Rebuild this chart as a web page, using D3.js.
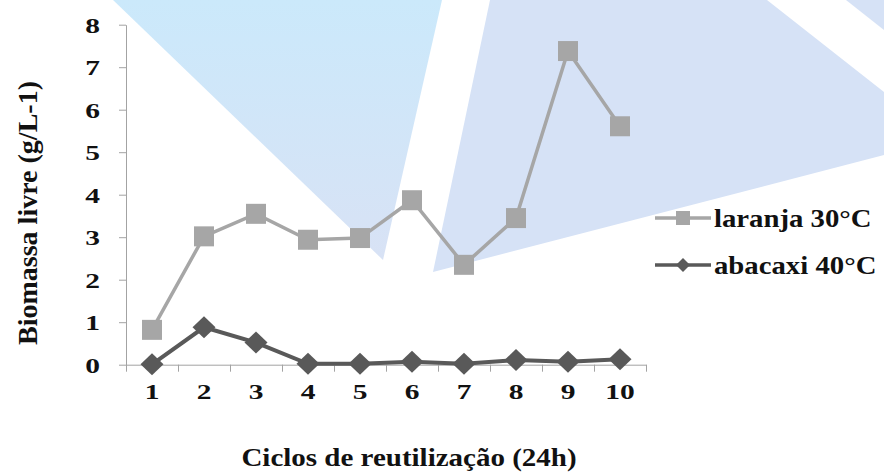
<!DOCTYPE html>
<html>
<head>
<meta charset="utf-8">
<script src="https://cdn.jsdelivr.net/npm/d3@7/dist/d3.min.js"></script>
<style>
  html, body { margin: 0; padding: 0; background: #fff; }
  svg { display: block; }
  text { font-family: "Liberation Serif", "Times New Roman", serif; font-weight: bold; fill: #111; }
</style>
</head>
<body>
<svg id="chart" width="884" height="474"></svg>
<script>
// Reuse cycles (24h each)
const categories = ["1", "2", "3", "4", "5", "6", "7", "8", "9", "10"];
// Free biomass (g/L-1) per cycle
const laranja30 = [0.82, 3.02, 3.55, 2.94, 2.98, 3.87, 2.35, 3.45, 7.38, 5.61];
const abacaxi40 = [0.01, 0.88, 0.52, 0.02, 0.02, 0.07, 0.02, 0.11, 0.07, 0.13];
const yTicks = [0, 1, 2, 3, 4, 5, 6, 7, 8];
const seriesNames = ["laranja 30°C", "abacaxi 40°C"];
const yTitle = "Biomassa livre  (g/L-1)";
const xTitle = "Ciclos de reutilização  (24h)";

const plot = { left: 126, right: 646, top: 24.7, bottom: 364.7 };
const TICK_STRETCH = 1.34;      // wide serif digits
const TITLE_STRETCH = 1.16;
const LEGEND_STRETCH = 1.15;
const axisColor = "#a3a3a3";
const lightGray = "#a6a6a6";
const darkGray = "#595959";

const svg = d3.select("#chart");

// Decorative background wedges
const defs = svg.append("defs");
const grad = defs.append("linearGradient").attr("id", "wedgeGrad")
  .attr("x1", 0).attr("y1", 0).attr("x2", 0).attr("y2", 1);
grad.append("stop").attr("offset", "0%").attr("stop-color", "#cbe9fb");
grad.append("stop").attr("offset", "100%").attr("stop-color", "#d8e2f5");

const bg = svg.append("g").attr("class", "backdrop");
const wedges = [
  { pts: [[113, 0], [442, 0], [383, 260]], fill: "url(#wedgeGrad)" },
  { pts: [[490, 0], [767, 0], [884, 92], [884, 155], [433, 272]], fill: "#d6e2f6" },
  { pts: [[846, 0], [884, 0], [884, 30]], fill: "#d6e2f6" }
];
bg.selectAll("path").data(wedges).join("path")
  .attr("d", d => d3.line()(d.pts) + "Z")
  .attr("fill", d => d.fill);

// Scales
const y = d3.scaleLinear().domain([0, 8]).range([plot.bottom, plot.top]);
const xBand = d3.scaleBand().domain(categories).range([plot.left, plot.right]).padding(0);
const xEdge = d3.scaleLinear().domain([0, categories.length]).range([plot.left, plot.right]);
const cx = (c) => xBand(c) + xBand.bandwidth() / 2;

function stretchText(sel) {
  sel.each(function () {
    const t = d3.select(this);
    const x0 = +t.attr("x") || 0;
    t.attr("x", x0 / TICK_STRETCH).attr("transform", `scale(${TICK_STRETCH},1)`);
  });
}

// Y axis
const yAxis = svg.append("g").attr("transform", `translate(${plot.left},0)`)
  .call(d3.axisLeft(y).tickValues(yTicks).tickFormat(d3.format("d")).tickSize(7).tickSizeOuter(0).tickPadding(19));
yAxis.select(".domain").attr("stroke", axisColor);
yAxis.selectAll(".tick line").attr("stroke", axisColor);
yAxis.selectAll(".tick text").attr("font-size", 22).attr("dy", "0.34em").call(stretchText);

// X axis: line and boundary ticks
const xAxis = svg.append("g").attr("transform", `translate(0,${plot.bottom})`)
  .call(d3.axisBottom(xEdge).ticks(categories.length).tickFormat("").tickSize(7).tickSizeOuter(0));
xAxis.select(".domain").attr("stroke", axisColor);
xAxis.selectAll(".tick line").attr("stroke", axisColor);

// X labels centred in each category
const xLab = svg.append("g").attr("transform", `translate(0,${plot.bottom})`)
  .call(d3.axisBottom(xBand).tickSize(0).tickPadding(19));
xLab.select(".domain").remove();
xLab.selectAll(".tick text").attr("font-size", 22).attr("dy", "0.71em").call(stretchText);

// Axis titles
svg.append("text")
  .attr("transform", "translate(37,213) rotate(-90)")
  .attr("text-anchor", "middle").attr("font-size", 28)
  .text(yTitle);
svg.append("text")
  .attr("transform", `translate(409,466) scale(${TITLE_STRETCH},1)`)
  .attr("text-anchor", "middle").attr("font-size", 25)
  .text(xTitle);

// Series
const line = d3.line().x((d, i) => cx(categories[i])).y(d => y(d));
const diamond = (hw, hh) => `M0,${-hh}L${hw},0L0,${hh}L${-hw},0Z`;

svg.append("path").datum(laranja30)
  .attr("d", line).attr("fill", "none")
  .attr("stroke", lightGray).attr("stroke-width", 3.5);
svg.append("g").selectAll("rect").data(laranja30).join("rect")
  .attr("x", (d, i) => cx(categories[i]) - 10)
  .attr("y", d => y(d) - 10)
  .attr("width", 20).attr("height", 20)
  .attr("fill", lightGray);

svg.append("path").datum(abacaxi40)
  .attr("d", line).attr("fill", "none")
  .attr("stroke", darkGray).attr("stroke-width", 4);
svg.append("g").selectAll("path").data(abacaxi40).join("path")
  .attr("transform", (d, i) => `translate(${cx(categories[i])},${y(d)})`)
  .attr("d", diamond(11.5, 11))
  .attr("fill", darkGray);

// Legend
const legendItems = [
  { name: seriesNames[0], color: lightGray, marker: "square" },
  { name: seriesNames[1], color: darkGray, marker: "diamond" }
];
const legend = svg.append("g").attr("transform", "translate(655,218)");
const li = legend.selectAll("g").data(legendItems).join("g")
  .attr("transform", (d, i) => `translate(0,${i * 47})`);
li.append("line").attr("x1", 0).attr("x2", 56).attr("y1", 0).attr("y2", 0)
  .attr("stroke", d => d.color).attr("stroke-width", 3.5);
li.append("path")
  .attr("transform", "translate(28,0)")
  .attr("d", d => d.marker === "square" ? "M-7,-7H7V7H-7Z" : diamond(7, 7))
  .attr("fill", d => d.color);
li.append("text")
  .attr("transform", `translate(59,0) scale(${LEGEND_STRETCH},1)`)
  .attr("dy", "0.35em").attr("font-size", 25)
  .text(d => d.name);
</script>
</body>
</html>
